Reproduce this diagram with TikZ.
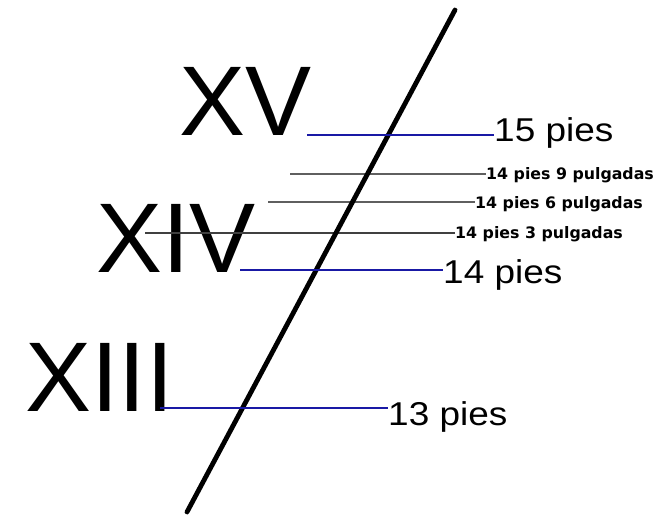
\documentclass[tikz,border=0pt]{standalone}
\usepackage{fontspec}
\setmainfont{Liberation Sans}
\newfontfamily\smallfont{DejaVu Sans}
\definecolor{lineblue}{RGB}{25,25,165}
\definecolor{linegray}{RGB}{95,95,95}
\begin{document}
\begin{tikzpicture}[x=1pt,y=-1pt,
  roman/.style={anchor=base west,inner sep=0pt,font=\fontsize{99}{99}\selectfont},
  biglab/.style={anchor=base west,inner sep=0pt,xscale=1.12,font=\fontsize{33}{33}\selectfont},
  smalllab/.style={anchor=base west,inner sep=0pt,font=\smallfont\bfseries\fontsize{15.8}{15.8}\selectfont},
  blueline/.style={draw=lineblue,line width=2.8pt},
  grayline/.style={draw=linegray,line width=1.4pt},
  mainline/.style={draw=black,line width=4.8pt,line cap=round}]
\useasboundingbox (0,0) rectangle (664,516);
% Roman numerals
\node[roman] (XV) at (179,136) {XV};
\node[roman] (XIV) at (96,272) {XIV};
\node[roman] (XIII) at (25,411) {XIII};
% labels
\node[biglab] (l15) at (494,142) {15 pies};
\node[biglab] (l14) at (443,283) {14 pies};
\node[biglab] (l13) at (388,425) {13 pies};
\node[smalllab] (l149) at (486,179) {14 pies 9 pulgadas};
\node[smalllab] (l146) at (475,208) {14 pies 6 pulgadas};
\node[smalllab] (l143) at (455,238) {14 pies 3 pulgadas};
% start points
\coordinate (s15) at (307,135);
\coordinate (s14) at (240,270);
\coordinate (s13) at (160,408);
\coordinate (s149) at (290,174);
\coordinate (s146) at (268,202);
\coordinate (s143) at (145,233);
\coordinate (top) at (455,10);
\coordinate (bot) at (187,512);
% gray lines
\draw[grayline] (s149) -- (s149 -| l149.west);
\draw[grayline] (s146) -- (s146 -| l146.west);
\draw[grayline,draw=black!75,line width=1.1pt] (s143) -- (s143 -| l143.west);
% main diagonal
\draw[mainline] (top) -- (bot);
% blue lines
\draw[blueline] (s15) -- (s15 -| l15.west);
\draw[blueline] (s14) -- (s14 -| l14.west);
\draw[blueline] (s13) -- (s13 -| l13.west);
\end{tikzpicture}
\end{document}
